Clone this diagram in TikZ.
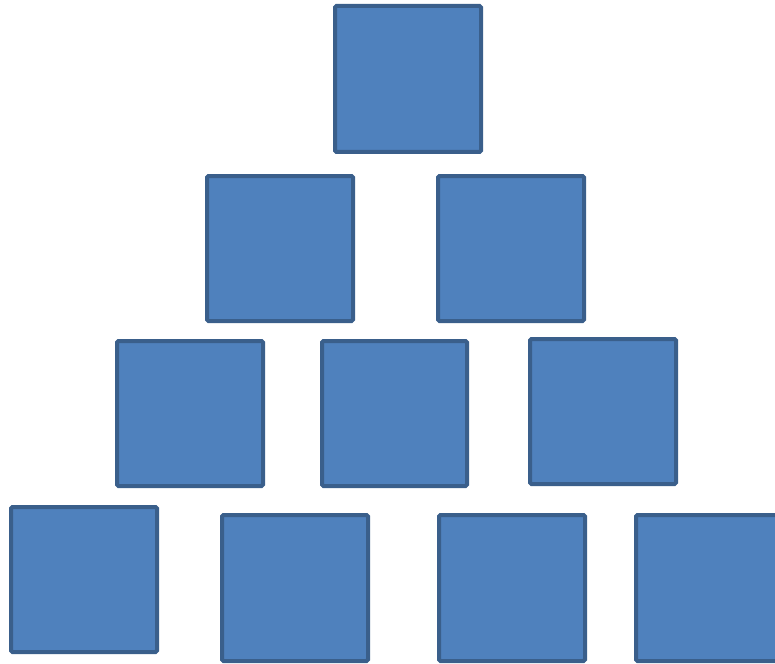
\documentclass[tikz,border=0pt]{standalone}
\definecolor{boxfill}{HTML}{4F81BD}
\definecolor{boxline}{HTML}{3A5F8B}
\begin{document}
\begin{tikzpicture}[x=1pt,y=-1pt,
  sq/.style={draw=boxline,fill=boxfill,line width=4pt,rounded corners=1.5pt,
    minimum width=146pt,minimum height=146pt,inner sep=0pt,outer sep=0pt}]
\useasboundingbox (0,0) rectangle (775,663);
\node[sq] (t1) at (408,79) {};
\node[sq,minimum height=145pt] (m1) at (280,248.5) {};
\node[sq,minimum height=145pt] (m2) at (511,248.5) {};
\node[sq,minimum height=145pt,minimum width=146pt] (n1) at (190,413.5) {};
\node[sq,minimum height=145pt,minimum width=145pt] (n2) at (394.5,413.5) {};
\node[sq,minimum height=145pt] (n3) at (603,411.5) {};
\node[sq,minimum height=145pt] (b1) at (84,579.5) {};
\node[sq] (b2) at (295,588) {};
\node[sq] (b3) at (512,588) {};
\node[sq] (b4) at (709,588) {};
\end{tikzpicture}
\end{document}
